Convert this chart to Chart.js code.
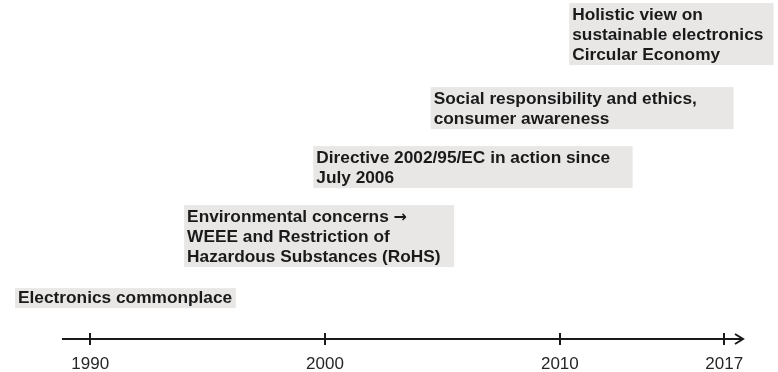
<!DOCTYPE html>
<html>
<head>
<meta charset="utf-8">
<script src="https://cdn.jsdelivr.net/npm/chart.js@4"></script>
<style>
html,body{margin:0;padding:0;background:#fff;}
#wrap{width:778px;height:372px;position:relative;}
</style>
</head>
<body>
<div id="wrap"><canvas id="c" width="778" height="372"></canvas></div>
<script>
// ---- data ----
const tickYears = [1990, 2000, 2010, 2017];
const eventLabels = [
  ["Electronics commonplace"],
  ["Environmental concerns \u2192", "WEEE and Restriction of", "Hazardous Substances (RoHS)"],
  ["Directive 2002/95/EC in action since", "July 2006"],
  ["Social responsibility and ethics,", "consumer awareness"],
  ["Holistic view on", "sustainable electronics", "Circular Economy"]
];
const eraStart = [1986.8, 1994.0, 1999.5, 2004.5, 2010.4];
const eraEnd   = [1996.2, 2005.5, 2013.1, 2017.4, 2019.1];
const eraLevel = [15.0, 39.5, 56.9, 74.3, 99.1];

const FONT = '"Liberation Sans", Arial, sans-serif';

const timelinePlugin = {
  id: 'timeline',
  afterDatasetsDraw(chart) {
    const ctx = chart.ctx;
    const xs = chart.scales.x, ys = chart.scales.y;
    const area = chart.chartArea;
    ctx.save();
    // boxes + texts
    eventLabels.forEach((lines, i) => {
      const x0 = xs.getPixelForValue(eraStart[i]);
      const x1 = xs.getPixelForValue(eraEnd[i]);
      const top = ys.getPixelForValue(eraLevel[i]);
      const h = lines.length === 1 ? 20 : lines.length * 20 + 2;
      ctx.fillStyle = '#e8e7e6';
      ctx.fillRect(x0, top, x1 - x0, h);
      ctx.fillStyle = '#1a1a1a';
      ctx.textBaseline = 'middle';
      ctx.textAlign = 'left';
      const firstY = lines.length === 1 ? top + 10 : top + 12;
      lines.forEach((t, k) => {
        const y = firstY + k * 20;
        ctx.font = 'bold 17.3px ' + FONT;
        if (t.endsWith('\u2192')) {
          const body = t.slice(0, -1);
          ctx.fillText(body, x0 + 3, y);
          const w = ctx.measureText(body).width;
          ctx.font = 'bold 16px "DejaVu Sans", sans-serif';
          ctx.fillText('\u2192', x0 + 3 + w, y + 1);
        } else {
          ctx.fillText(t, x0 + 3, y);
        }
      });
    });
    // axis line with arrow
    const yAxis = area.bottom;
    ctx.strokeStyle = '#1a1a1a';
    ctx.lineWidth = 2;
    ctx.beginPath();
    ctx.moveTo(area.left, yAxis);
    ctx.lineTo(area.right, yAxis);
    ctx.stroke();
    ctx.beginPath();
    ctx.moveTo(area.right - 8, yAxis - 5);
    ctx.lineTo(area.right, yAxis);
    ctx.lineTo(area.right - 8, yAxis + 5);
    ctx.stroke();
    // ticks
    tickYears.forEach(yr => {
      const px = Math.round(xs.getPixelForValue(yr));
      ctx.beginPath();
      ctx.moveTo(px, yAxis - 6);
      ctx.lineTo(px, yAxis + 6);
      ctx.stroke();
    });
    ctx.restore();
  }
};

new Chart(document.getElementById('c'), {
  type: 'scatter',
  data: {
    datasets: [{
      data: eraStart.map((s, i) => ({x: s, y: eraLevel[i]})),
      pointRadius: 0,
      showLine: false
    }]
  },
  options: {
    responsive: false,
    animation: false,
    layout: {padding: {left: 62, right: 35, top: 0, bottom: 2}},
    plugins: {legend: {display: false}, tooltip: {enabled: false}},
    scales: {
      x: {
        type: 'linear',
        min: 1988.8,
        max: 2017.8,
        afterBuildTicks(scale) { scale.ticks = tickYears.map(v => ({value: v})); },
        afterFit(scale) { scale.height = 31; },
        grid: {display: false, drawTicks: false},
        border: {display: false},
        ticks: {
          padding: 15,
          color: '#262626',
          font: {family: FONT, size: 17},
          callback: v => String(v),
          maxRotation: 0,
          autoSkip: false
        }
      },
      y: {
        type: 'linear',
        min: 0,
        max: 100,
        display: false
      }
    }
  },
  plugins: [timelinePlugin]
});
</script>
</body>
</html>
